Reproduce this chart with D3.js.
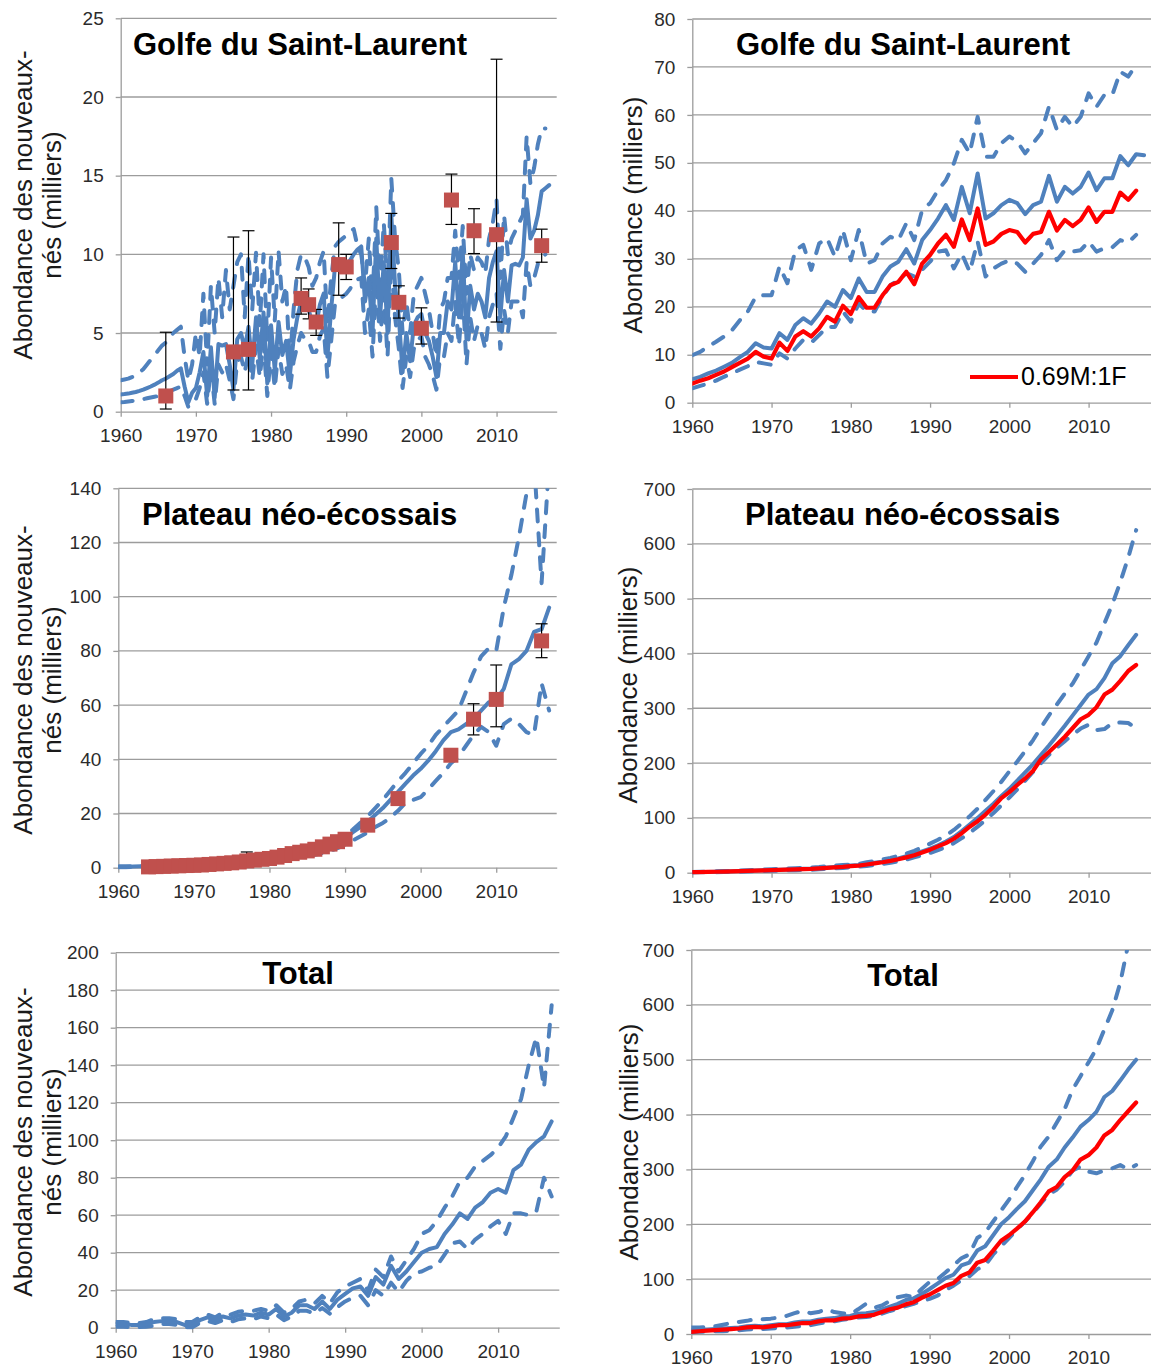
<!DOCTYPE html>
<html>
<head>
<meta charset="utf-8">
<script src="https://cdn.jsdelivr.net/npm/d3@7"></script>
<style>
  body { margin: 0; background: #fff; }
  svg text { font-family: "Liberation Sans", Arial, sans-serif; }
</style>
</head>
<body>
<div id="chart"></div>
<script>
/* DATA */
// Golfe du Saint-Laurent, newborns (half-year steps from 1960)
const golfeMedian = [
  1.10, 1.12, 1.15, 1.20, 1.25, 1.32, 1.40, 1.50, 1.60, 1.72,
  1.85, 2.00, 2.10, 2.25, 2.40, 2.60, 2.75, 1.60, 0.60, 1.20,
  1.5, 2.5, 3.8, 1.0, 4.1, 0.9, 4.3, 4.2, 4.3, 3.0,
  1.4, 4.6, 5.0, 4.0, 5.4, 3.0, 6.0, 3.4, 6.3, 1.8,
  5.5, 2.6, 5.7, 3.6, 4.5, 2.3, 4.6, 6.0, 7.0, 6.6,
  6.5, 5.6, 5.5, 6.8, 7.5, 3.5, 6.5, 9.2, 9.0, 9.3,
  9.2, 9.6, 10.0, 10.3, 10.5, 7.0, 8.5, 5.0, 11.0, 6.0,
  9.5, 5.0, 12.5, 8.0, 6.0, 2.5, 5.0, 3.2, 5.5, 6.0,
  6.2, 5.0, 4.5, 3.5, 2.2, 5.0, 5.0, 7.0, 6.5, 9.5,
  6.0, 10.2, 4.6, 8.0, 6.5, 7.5, 7.0, 6.0, 8.5, 9.5,
  10.2, 6.0, 9.0, 7.0, 9.3, 9.4, 9.3, 9.8, 13.5, 11.0,
  11.5, 12.5, 14.0, 14.2, 14.4
];
const golfeUpper = [
  2.0, 2.05, 2.1, 2.2, 2.3, 2.5, 2.7, 3.0, 3.3, 3.6,
  3.9, 4.2, 4.4, 4.7, 5.0, 5.2, 5.4, 3.5, 2.0, 3.0,
  5.0, 3.5, 7.5, 3.0, 8.0, 5.0, 8.5, 6.0, 9.0, 6.5,
  8.0, 9.5, 10.0, 6.0, 10.0, 6.5, 10.1, 5.5, 10.0, 4.5,
  9.8, 5.8, 10.2, 7.0, 8.0, 3.0, 6.5, 9.0, 10.0, 9.8,
  9.2, 8.0, 8.5, 9.5, 10.2, 5.5, 8.5, 10.5, 10.8, 11.0,
  11.2, 11.5, 11.6, 10.5, 10.0, 8.0, 11.0, 7.0, 13.0, 8.0,
  12.0, 8.0, 14.8, 11.0, 9.0, 5.0, 7.0, 5.0, 7.5, 8.0,
  8.5, 7.5, 6.5, 5.0, 3.5, 6.5, 7.0, 8.5, 8.5, 11.5,
  8.5, 11.8, 7.5, 10.0, 9.0, 9.8, 9.5, 8.8, 11.0, 12.0,
  13.5, 8.5, 12.5, 10.0, 11.0, 11.5, 12.0, 12.5, 17.5, 14.5,
  15.5, 17.0, 18.0, 18.0
];
const golfeLower = [
  0.6, 0.62, 0.65, 0.68, 0.7, 0.75, 0.8, 0.85, 0.9, 0.95,
  1.0, 1.1, 1.2, 1.3, 1.4, 1.5, 1.6, 1.0, 0.3, 0.6,
  0.8, 1.5, 2.5, 0.5, 2.8, 0.5, 3.0, 2.5, 3.0, 2.0,
  0.8, 3.2, 3.5, 2.5, 3.8, 2.0, 4.2, 2.2, 4.4, 1.0,
  3.8, 1.5, 4.0, 2.4, 3.0, 1.4, 3.2, 4.2, 5.0, 4.6,
  4.5, 3.8, 3.8, 4.8, 5.3, 2.2, 4.5, 6.8, 7.0, 7.3,
  7.5, 7.8, 8.2, 8.4, 8.5, 5.0, 6.5, 3.5, 8.5, 4.5,
  7.5, 3.5, 9.5, 6.0, 4.0, 1.5, 3.5, 2.2, 4.0, 4.5,
  4.8, 3.5, 3.0, 2.3, 1.4, 3.5, 3.5, 5.0, 4.5, 7.0,
  4.2, 7.5, 3.0, 6.0, 4.5, 5.5, 5.0, 4.0, 6.0, 6.8,
  7.5, 4.0, 6.5, 5.0, 7.0, 7.0, 7.0, 6.0, 9.5, 8.0,
  8.5, 9.4, 9.8, 10.0
];
const golfeObsYears = [1966, 1975, 1977, 1984, 1985, 1986, 1989, 1990, 1996, 1997, 2000, 2004, 2007, 2010, 2016];
const golfeObs      = [1.0, 3.8, 3.96, 7.2, 6.8, 5.7, 9.35, 9.2, 10.75, 6.95, 5.3, 13.45, 11.5, 11.25, 10.55];
const golfeObsLow   = [0.17, 1.38, 1.38, 6.2, 5.9, 4.85, 7.4, 8.4, 9.1, 5.95, 4.3, 11.9, 10.05, 5.7, 9.5];
const golfeObsHigh  = [5.05, 11.1, 11.5, 8.5, 7.8, 6.5, 12.0, 10.0, 12.6, 8.0, 6.6, 15.1, 12.9, 22.4, 11.6];

// Golfe du Saint-Laurent, total abundance (annual from 1960)
const golfeAbMedian = [
  4.9, 5.4, 6.1, 6.7, 7.5, 8.3, 9.5, 10.6, 12.4, 11.5,
  11.3, 14.5, 13.1, 16.2, 17.6, 16.5, 18.6, 21.1, 20.0, 23.5,
  21.8, 25.9, 23.1, 23.1, 26.3, 28.4, 29.4, 32.0, 29.0, 33.9,
  36.0, 38.4, 41.2, 38.1, 45.0, 39.5, 47.8, 38.4, 39.5, 41.2,
  42.3, 41.6, 39.3, 41.2, 41.9, 47.3, 41.9, 45.0, 43.6, 45.0,
  48.0, 44.3, 46.8, 46.8, 51.4, 49.5, 51.8, 51.6
];
const golfeAbRatio = [
  4.0, 4.6, 5.1, 5.8, 6.5, 7.4, 8.3, 9.2, 10.6, 9.6,
  9.2, 12.5, 10.8, 13.8, 14.9, 13.8, 15.5, 17.9, 16.9, 20.2,
  18.5, 22.0, 19.8, 19.8, 22.4, 24.5, 25.2, 27.3, 24.7, 29.0,
  30.8, 33.2, 35.0, 32.5, 38.2, 33.9, 40.5, 32.9, 33.6, 35.2,
  36.0, 35.6, 33.4, 35.2, 35.6, 39.8, 35.9, 38.1, 36.8, 38.1,
  40.7, 37.7, 39.8, 39.8, 43.8, 42.3, 44.2
];
const golfeAbUpper = [
  9.9, 10.6, 11.7, 12.7, 13.8, 15.1, 17.2, 19.0, 22.1, 22.4,
  22.4, 28.4, 24.9, 31.8, 32.9, 27.7, 33.2, 34.3, 30.4, 36.0,
  29.7, 36.0, 29.0, 29.7, 33.2, 34.6, 33.9, 37.4, 33.9, 40.2,
  41.6, 44.3, 46.4, 49.9, 54.8, 52.0, 59.6, 51.3, 51.3, 54.1,
  55.5, 54.4, 52.0, 54.1, 56.2, 61.7, 56.9, 59.6, 57.5, 59.6,
  64.5, 61.7, 64.2, 64.2, 69.0, 68.0, 70.4
];
const golfeAbLower = [
  3.0, 3.5, 4.0, 4.6, 5.4, 6.1, 6.9, 7.6, 8.5, 8.2,
  7.9, 10.3, 9.2, 11.3, 13.1, 12.5, 14.1, 15.8, 15.8, 19.0,
  16.9, 20.7, 19.0, 19.0, 22.1, 24.5, 25.6, 27.0, 26.3, 27.7,
  29.4, 31.5, 31.8, 28.0, 31.1, 27.3, 33.6, 26.3, 28.0, 29.0,
  29.7, 29.0, 27.3, 29.0, 30.8, 33.9, 29.7, 31.8, 31.5, 31.8,
  33.6, 31.5, 32.2, 32.4, 33.9, 33.4, 35.0
];

// Plateau néo-écossais, newborns (annual from 1960)
const plateauMedian = [
  0.3, 0.3, 0.4, 0.5, 0.6, 0.7, 0.8, 0.9, 1.0, 1.1,
  1.2, 1.3, 1.4, 1.5, 1.7, 1.9, 2.1, 2.3, 2.5, 2.7,
  3.0, 3.3, 3.6, 4.0, 4.4, 4.9, 5.5, 6.3, 7.3, 8.8,
  10.8, 13, 15, 17, 19.5, 22, 25, 28, 31, 34,
  36.5, 39.5, 43, 47, 50, 51, 53, 55, 58, 61,
  62, 66, 75, 77, 80, 87, 88, 96
];
const plateauUpper = [
  0.5, 0.5, 0.6, 0.7, 0.8, 0.9, 1.0, 1.1, 1.2, 1.3,
  1.4, 1.5, 1.7, 1.8, 2.0, 2.2, 2.4, 2.7, 3.0, 3.3,
  3.6, 4.0, 4.4, 4.9, 5.4, 6.0, 6.7, 7.6, 8.7, 10.2,
  12.0, 14.0, 16.5, 19.0, 22.0, 25.0, 28.5, 32.0, 35.0, 38.5,
  42.0, 45.0, 49.0, 52.0, 55.0, 58.0, 65.0, 72.0, 78.0, 81.0,
  80.0, 96.0, 108.0, 122.0, 138.0, 150.0, 105.0, 150.0
];
const plateauLower = [
  0.2, 0.2, 0.3, 0.3, 0.4, 0.5, 0.6, 0.7, 0.8, 0.9,
  1.0, 1.1, 1.2, 1.3, 1.4, 1.6, 1.8, 2.0, 2.2, 2.4,
  2.6, 2.9, 3.2, 3.5, 3.9, 4.3, 4.8, 5.4, 6.2, 7.2,
  8.5, 10, 11.5, 13, 15, 16.5, 18.5, 21, 24, 25,
  26, 29, 32, 35, 38.5, 41, 45, 49, 52, 50,
  45, 53, 55, 53, 50, 49, 68, 58
];
const plateauObsYears = [
  1964, 1965, 1966, 1967, 1968, 1969, 1970, 1971, 1972, 1973, 1974, 1975, 1976, 1977,
  1978, 1979, 1980, 1981, 1982, 1983, 1984, 1985, 1986, 1987, 1988, 1989, 1990,
  1993, 1997, 2004, 2007, 2010, 2016
];
const plateauObs = [
  0.3, 0.4, 0.5, 0.6, 0.7, 0.8, 0.9, 1.0, 1.2, 1.4, 1.6, 1.8, 2.1, 2.5,
  2.8, 3.1, 3.4, 3.9, 4.5, 5.2, 5.7, 6.2, 6.8, 7.7, 8.7, 9.6, 10.5,
  15.7, 25.5, 41.5, 54.8, 62.1, 83.7
];
const plateauObsLow  = [null, null, null, null, null, null, null, null, null, null, null, null, null, 2.0,
  null, null, null, null, null, null, null, null, null, null, null, null, null,
  null, null, null, 49, 52, 77.5];
const plateauObsHigh = [null, null, null, null, null, null, null, null, null, null, null, null, null, 5.8,
  null, null, null, null, null, null, null, null, null, null, null, null, null,
  null, null, null, 60.5, 74.8, 90];

// Plateau néo-écossais, total abundance (annual from 1960)
const plateauAbMedian = [
  1, 1.2, 1.5, 1.8, 2.2, 2.6, 3, 3.5, 4, 4.5,
  5, 5.5, 6, 6.5, 7, 7.5, 8.5, 9.5, 10.5, 11.5,
  13, 14, 16, 18, 20, 23, 26, 30, 34, 39,
  44, 50, 57, 65, 76, 88, 100, 113, 126, 140,
  153, 168, 183, 198, 215, 232, 250, 268, 287, 306,
  325, 335, 355, 382, 395, 415, 434
];
const plateauAbRatio = [
  0.9, 1.1, 1.4, 1.7, 2.0, 2.4, 2.8, 3.2, 3.7, 4.2,
  4.6, 5.1, 5.6, 6.0, 6.5, 7.0, 7.9, 8.8, 9.7, 10.6,
  12, 13, 15, 17, 19, 21.5, 24.5, 28, 32, 37,
  42, 48, 54, 62, 72, 84, 94, 106, 120, 136,
  147, 160, 172, 186, 207, 220, 234, 248, 264, 280,
  288, 302, 325, 334, 350, 368, 379
];
const plateauAbUpper = [
  1.5, 1.8, 2.1, 2.5, 3.0, 3.5, 4.0, 4.6, 5.2, 5.8,
  6.4, 7.0, 7.6, 8.2, 8.8, 9.4, 10.5, 12, 13, 14,
  15, 16, 19, 21, 24, 27, 31, 35, 40, 46,
  53, 60, 68, 78, 90, 103, 117, 133, 149, 166,
  185, 203, 222, 242, 265, 287, 307, 327, 345, 370,
  395, 420, 455, 490, 530, 575, 625
];
const plateauAbLower = [
  0.5, 0.6, 0.8, 1.0, 1.3, 1.6, 1.9, 2.2, 2.6, 3.0,
  3.4, 3.8, 4.2, 4.6, 5.0, 5.5, 6.2, 7.0, 7.8, 8.6,
  10, 11, 12, 14, 16, 18, 21, 24, 28, 32,
  36, 41, 47, 54, 63, 73, 84, 96, 109, 123,
  137, 152, 168, 184, 200, 215, 228, 240, 252, 263,
  270, 260, 262, 273, 274, 273, 264
];

// Total, newborns (annual from 1960)
const totalMedian = [
  2, 2, 1.5, 1.5, 2, 3, 3.5, 3.5, 3, 1.5,
  1.5, 4, 5.5, 4, 6, 5, 6.5, 7, 6.5, 8,
  7, 10, 6, 8, 12, 12, 10, 14, 10, 15,
  18, 21, 22, 17, 27, 23, 33, 26, 30, 35,
  40, 42, 43, 50, 55, 61, 58, 64, 67, 72,
  74, 72, 84, 87, 95, 99, 102, 110
];
const totalUpper = [
  3, 3, 2.5, 2.5, 3, 4.5, 5, 5, 4.5, 3,
  3, 5.5, 7, 5.5, 8, 7, 8.5, 9, 9, 10,
  9, 12, 8, 10, 14, 15, 13, 17, 13, 19,
  22, 24, 26, 20, 31, 27, 38, 30, 36, 42,
  50, 52, 57, 64, 70, 78, 80, 86, 89, 92,
  96, 102, 112, 122, 140, 155, 128, 172
];
const totalLower = [
  0.5, 0.5, 0.3, 0.3, 0.5, 1, 2, 2, 1.5, 0.3,
  0.3, 2.5, 3.5, 2.5, 4, 3, 4.5, 5, 4.5, 6,
  5, 7, 4, 6, 9, 9, 7.5, 10.5, 7.5, 11,
  14, 16, 17, 12, 20, 17, 24, 19, 25, 29,
  30, 32, 33, 39, 45, 46, 42, 47, 50, 54,
  57, 50, 61, 61, 60, 62, 80, 70
];

// Total, abundance (annual from 1960)
const totalAbMedian = [
  7, 8, 8, 9, 10, 11, 12, 14, 15, 14,
  16, 18, 18, 21, 23, 23, 26, 28, 29, 32,
  33, 37, 38, 40, 45, 50, 55, 62, 65, 73,
  82, 92, 102, 108, 125, 130, 152, 160, 180, 200,
  213, 228, 242, 262, 282, 305, 318, 340, 358, 378,
  390, 405, 432, 443, 462, 482, 500
];
const totalAbRatio = [
  4, 5, 6, 7, 8, 9, 10, 12, 13, 12,
  14, 16, 16, 18, 20, 20, 23, 25, 25, 28,
  29, 32, 33, 35, 40, 45, 48, 54, 58, 66,
  72, 80, 88, 93, 106, 112, 130, 135, 152, 170,
  180, 192, 205, 222, 240, 260, 268, 286, 298, 318,
  326, 340, 362, 372, 390, 406, 422
];
const totalAbUpper = [
  12, 12, 13, 14, 17, 20, 22, 24, 27, 27,
  28, 30, 33, 38, 42, 38, 40, 45, 40, 38,
  36, 45, 55, 48, 52, 60, 67, 70, 68, 82,
  95, 100, 112, 125, 138, 145, 175, 185, 205, 225,
  245, 268, 290, 315, 342, 360, 385, 410, 445, 470,
  495, 520, 555, 590, 640, 710, 760
];
const totalAbLower = [
  3, 4, 4, 5, 5, 6, 7, 8, 9, 9,
  10, 11, 12, 13, 15, 16, 19, 22, 23, 26,
  28, 30, 31, 33, 37, 42, 46, 51, 55, 60,
  64, 70, 80, 88, 98, 105, 118, 125, 145, 160,
  175, 190, 205, 220, 238, 255, 263, 278, 298, 305,
  296, 293, 298, 302, 308, 300, 308
];

const xTicks = [1960, 1970, 1980, 1990, 2000, 2010];
const ratioLabel = "0.69M:1F";

/* CONSTANTS AND GLOBALS */
const width = 1151, height = 1370;
const blue = "#4f81bd", red = "#ff0000", squareColor = "#c0504d", gridColor = "#9c9c9c";

const seriesFrom = (start, step, values) => values.map((v, i) => ({ year: start + i * step, value: v }));

const newbornTitle = ["Abondance des nouveaux-", "nés (milliers)"];
const abundTitle = ["Abondance (milliers)"];

const panels = [
  {
    box: { left: 120.7, right: 556.7, top: 18.3, bottom: 411.7 }, yMax: 25, yStep: 5,
    title: "Golfe du Saint-Laurent", titleX: 133, titleY: 55, titleAnchor: "start",
    yTitle: newbornTitle, yTitleX: [23, 52], yTitleY: 205,
    lines: [
      { data: seriesFrom(1960, 0.5, golfeUpper), kind: "dash" },
      { data: seriesFrom(1960, 0.5, golfeLower), kind: "dash" },
      { data: seriesFrom(1960, 0.5, golfeMedian), kind: "solid" }
    ],
    obs: { years: golfeObsYears, values: golfeObs, low: golfeObsLow, high: golfeObsHigh }
  },
  {
    box: { left: 692.3, right: 1152, top: 19, bottom: 402.7 }, yMax: 80, yStep: 10,
    title: "Golfe du Saint-Laurent", titleX: 736, titleY: 55, titleAnchor: "start",
    yTitle: abundTitle, yTitleX: [633], yTitleY: 215,
    lines: [
      { data: seriesFrom(1960, 1, golfeAbUpper), kind: "dash" },
      { data: seriesFrom(1960, 1, golfeAbLower), kind: "dash" },
      { data: seriesFrom(1960, 1, golfeAbMedian), kind: "solid" },
      { data: seriesFrom(1960, 1, golfeAbRatio), kind: "red" }
    ],
    legend: true
  },
  {
    box: { left: 118.3, right: 556.7, top: 488.3, bottom: 867.7 }, yMax: 140, yStep: 20,
    title: "Plateau néo-écossais", titleX: 142, titleY: 525, titleAnchor: "start",
    yTitle: newbornTitle, yTitleX: [23, 52], yTitleY: 680,
    lines: [
      { data: seriesFrom(1960, 1, plateauUpper), kind: "dash" },
      { data: seriesFrom(1960, 1, plateauLower), kind: "dash" },
      { data: seriesFrom(1960, 1, plateauMedian), kind: "solid" }
    ],
    obs: { years: plateauObsYears, values: plateauObs, low: plateauObsLow, high: plateauObsHigh }
  },
  {
    box: { left: 692.3, right: 1152, top: 489, bottom: 872.7 }, yMax: 700, yStep: 100,
    title: "Plateau néo-écossais", titleX: 745, titleY: 525, titleAnchor: "start",
    yTitle: abundTitle, yTitleX: [628], yTitleY: 685,
    lines: [
      { data: seriesFrom(1960, 1, plateauAbUpper), kind: "dash" },
      { data: seriesFrom(1960, 1, plateauAbLower), kind: "dash" },
      { data: seriesFrom(1960, 1, plateauAbMedian), kind: "solid" },
      { data: seriesFrom(1960, 1, plateauAbRatio), kind: "red" }
    ]
  },
  {
    box: { left: 115.7, right: 559.3, top: 952.7, bottom: 1327.7 }, yMax: 200, yStep: 20,
    title: "Total", titleX: 298, titleY: 984, titleAnchor: "middle",
    yTitle: newbornTitle, yTitleX: [23, 52], yTitleY: 1142,
    lines: [
      { data: seriesFrom(1960, 1, totalUpper), kind: "dash" },
      { data: seriesFrom(1960, 1, totalLower), kind: "dash" },
      { data: seriesFrom(1960, 1, totalMedian), kind: "solid" }
    ]
  },
  {
    box: { left: 691.3, right: 1152, top: 950, bottom: 1334 }, yMax: 700, yStep: 100,
    title: "Total", titleX: 903, titleY: 986, titleAnchor: "middle",
    yTitle: abundTitle, yTitleX: [629], yTitleY: 1142,
    lines: [
      { data: seriesFrom(1960, 1, totalAbUpper), kind: "dash" },
      { data: seriesFrom(1960, 1, totalAbLower), kind: "dash" },
      { data: seriesFrom(1960, 1, totalAbMedian), kind: "solid" },
      { data: seriesFrom(1960, 1, totalAbRatio), kind: "red" }
    ]
  }
];

//SVG
const svg = d3.select("#chart")
  .append("svg")
  .attr("width", width)
  .attr("height", height)
  .style("background", "#fff");

panels.forEach((p, i) => drawPanel(p, i));

function drawPanel(p, idx) {
  const b = p.box;
  const xScale = d3.scaleLinear().domain([1960, 2018]).range([b.left, b.right]);
  const yScale = d3.scaleLinear().domain([0, p.yMax]).range([b.bottom, b.top]);
  const yTicks = d3.range(0, p.yMax + p.yStep / 2, p.yStep);

  const g = svg.append("g");

  // grid lines
  g.append("g")
    .selectAll("line")
    .data(yTicks.filter(d => d > 0))
    .join("line")
    .attr("x1", b.left)
    .attr("x2", b.right)
    .attr("y1", d => yScale(d))
    .attr("y2", d => yScale(d))
    .attr("stroke", gridColor)
    .attr("stroke-width", 1.3);

  // AXES
  const yAxis = d3.axisLeft(yScale)
    .tickValues(yTicks)
    .tickSize(5)
    .tickSizeOuter(0)
    .tickPadding(12);
  const xAxis = d3.axisBottom(xScale)
    .tickValues(xTicks)
    .tickFormat(d3.format("d"))
    .tickSize(5)
    .tickSizeOuter(0)
    .tickPadding(12);

  const yAxisGroup = g.append("g")
    .attr("transform", `translate(${b.left}, 0)`)
    .call(yAxis);
  const xAxisGroup = g.append("g")
    .attr("transform", `translate(0, ${b.bottom})`)
    .call(xAxis);

  [yAxisGroup, xAxisGroup].forEach(ax => {
    ax.select(".domain").attr("stroke", gridColor).attr("stroke-width", 1.3);
    ax.selectAll(".tick line").attr("stroke", gridColor).attr("stroke-width", 1.3);
    ax.selectAll(".tick text")
      .attr("font-size", 19)
      .attr("fill", "#2b2b2b")
      .style("font-family", '"Liberation Sans", Arial, sans-serif');
  });

  // clip for the lines
  const clipId = `clip${idx}`;
  svg.append("clipPath").attr("id", clipId)
    .append("rect")
    .attr("x", b.left)
    .attr("y", b.top)
    .attr("width", b.right - b.left)
    .attr("height", b.bottom - b.top + 2);

  const line = d3.line()
    .x(d => xScale(d.year))
    .y(d => yScale(d.value));

  const plot = g.append("g").attr("clip-path", `url(#${clipId})`);
  plot.selectAll("path.series")
    .data(p.lines)
    .join("path")
    .attr("class", "series")
    .attr("d", d => line(d.data))
    .attr("fill", "none")
    .attr("stroke", d => d.kind === "red" ? red : blue)
    .attr("stroke-width", d => d.kind === "red" ? 4.2 : 4)
    .attr("stroke-linejoin", "round")
    .attr("stroke-linecap", "round")
    .attr("stroke-dasharray", d => d.kind === "dash" ? "12,12" : null);

  // observations with error bars
  if (p.obs) {
    const obs = p.obs.years.map((yr, i) => ({
      year: yr, value: p.obs.values[i], low: p.obs.low[i], high: p.obs.high[i]
    }));
    const withErr = obs.filter(d => d.low != null);
    const err = g.append("g").attr("stroke", "#000").attr("stroke-width", 1.2);
    err.selectAll("line.v")
      .data(withErr)
      .join("line")
      .attr("x1", d => xScale(d.year))
      .attr("x2", d => xScale(d.year))
      .attr("y1", d => yScale(d.low))
      .attr("y2", d => yScale(d.high));
    ["low", "high"].forEach(k => {
      err.selectAll(`line.${k}`)
        .data(withErr)
        .join("line")
        .attr("class", k)
        .attr("x1", d => xScale(d.year) - 6)
        .attr("x2", d => xScale(d.year) + 6)
        .attr("y1", d => yScale(d[k]))
        .attr("y2", d => yScale(d[k]));
    });
    g.append("g")
      .selectAll("rect")
      .data(obs)
      .join("rect")
      .attr("x", d => xScale(d.year) - 7.5)
      .attr("y", d => yScale(d.value) - 7.5)
      .attr("width", 15)
      .attr("height", 15)
      .attr("fill", squareColor);
  }

  // title
  g.append("text")
    .attr("x", p.titleX)
    .attr("y", p.titleY)
    .attr("text-anchor", p.titleAnchor)
    .attr("font-size", 31)
    .attr("font-weight", "bold")
    .attr("fill", "#000")
    .text(p.title);

  // y axis title
  p.yTitle.forEach((t, i) => {
    g.append("text")
      .attr("transform", `translate(${p.yTitleX[i]}, ${p.yTitleY})rotate(-90)`)
      .attr("text-anchor", "middle")
      .attr("dy", "0.35em")
      .attr("font-size", 26)
      .attr("fill", "#1a1a1a")
      .text(t);
  });

  // legend
  if (p.legend) {
    g.append("line")
      .attr("x1", 970).attr("x2", 1018)
      .attr("y1", 377).attr("y2", 377)
      .attr("stroke", red)
      .attr("stroke-width", 4.2);
    g.append("text")
      .attr("x", 1021)
      .attr("y", 385)
      .attr("font-size", 25)
      .attr("fill", "#000")
      .text(ratioLabel);
  }
}
</script>
</body>
</html>
